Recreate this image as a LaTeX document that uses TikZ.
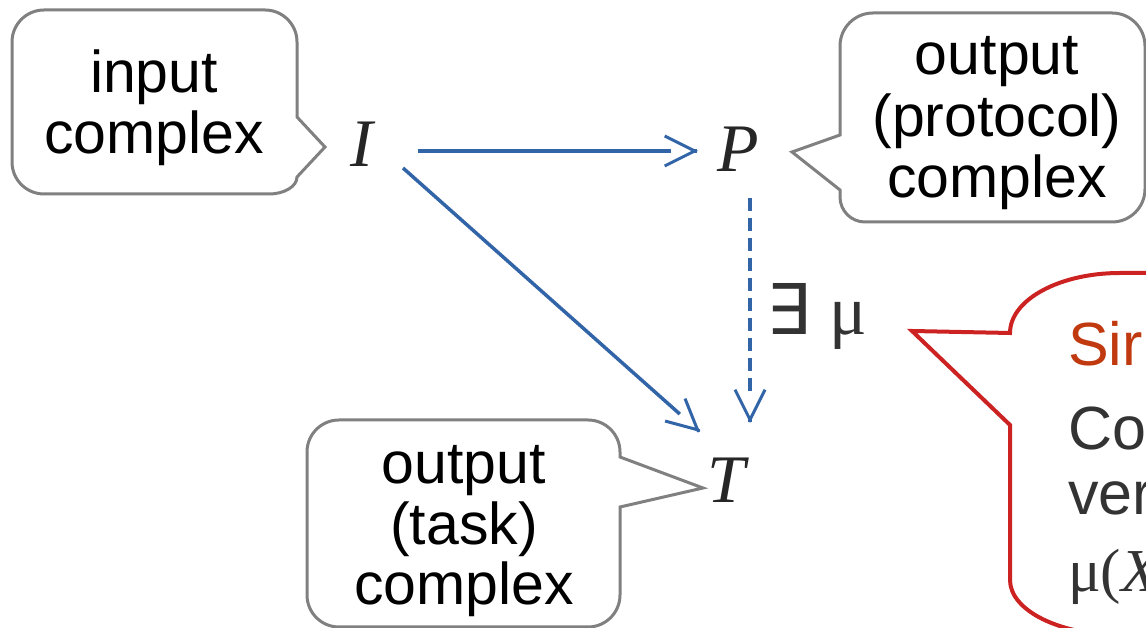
\documentclass[tikz,border=0pt]{standalone}
\usepackage{fontspec}
\setmainfont{Liberation Sans}
\newfontfamily\seriffam{Liberation Serif}
\newfontfamily\dejavufam{DejaVu Sans}
\usetikzlibrary{arrows.meta,calc}
\definecolor{ablue}{HTML}{3264A8}
\definecolor{cgray}{HTML}{808080}
\definecolor{cred}{HTML}{CC2222}
\definecolor{corange}{HTML}{C0390F}
\definecolor{tgray}{HTML}{333333}
\definecolor{mgray}{HTML}{262626}
\tikzset{
  callgray/.style={draw=cgray, line width=3pt, fill=white, line join=miter},
  callred/.style={draw=cred, line width=4pt, fill=white, line join=miter},
  calltext/.style={font=\fontsize{59}{64}\selectfont, text=black, inner sep=0pt, anchor=base},
  redtext/.style={font=\fontsize{61}{64}\selectfont, text=tgray, inner sep=0pt, anchor=base west},
  mathlet/.style={font=\seriffam\itshape\fontsize{68}{72}\selectfont, text=mgray, inner sep=0pt, anchor=base},
  shaft/.style={draw=ablue, line width=3.5pt, shorten >=27pt},
  dashshaft/.style={shaft, dash pattern=on 13pt off 7pt},
  tiponly/.style={draw=ablue, line width=3.5pt, -{Straight Barb[length=30pt,width=30pt,line width=3pt]}}
}
\begin{document}
\begin{tikzpicture}[x=1pt,y=1pt]
\useasboundingbox (0,0) rectangle (1146,628);
\clip (0,0) rectangle (1146,628);

% input complex callout
\draw[callgray] (44,618) -- (265,618) arc[start angle=90,end angle=0,radius=32]
  -- (297,511) -- (325,481) -- (297,451)
  arc[start angle=0,end angle=-90,x radius=28,y radius=17]
  -- (44,434) arc[start angle=270,end angle=180,radius=32]
  -- (12,586) arc[start angle=180,end angle=90,radius=32] -- cycle;
\node[calltext] (in1) at (154,535) {input};
\node[calltext] (in2) at (154,474) {complex};

% output (protocol) complex callout
\draw[callgray] (873,615) -- (1112,615) arc[start angle=90,end angle=0,radius=33]
  -- (1145,439) arc[start angle=0,end angle=-90,radius=33]
  -- (865,406) arc[start angle=270,end angle=180,radius=25]
  -- (840,438) -- (792,476) -- (840,493)
  -- (840,582) arc[start angle=180,end angle=90,radius=33] -- cycle;
\node[calltext] (pr1) at (997,553) {output};
\node[calltext] (pr2) at (997,491) {(protocol)};
\node[calltext] (pr3) at (997,430) {complex};

% output (task) complex callout
\draw[callgray] (339,208) -- (588,208) arc[start angle=90,end angle=0,radius=32]
  -- (620,171) -- (703,140) -- (620,121)
  -- (620,33) arc[start angle=0,end angle=-90,radius=32]
  -- (339,1) arc[start angle=270,end angle=180,radius=32]
  -- (307,176) arc[start angle=180,end angle=90,radius=32] -- cycle;
\node[calltext] (tk1) at (464,144) {output};
\node[calltext] (tk2) at (464,83) {(task)};
\node[calltext] (tk3) at (464,23) {complex};

% red callout
\draw[callred] (1010,203) -- (912,297) -- (1010,295)
  arc[start angle=180,end angle=90,x radius=110,y radius=60]
  -- (1175,355) -- (1175,-7) -- (1120,-7)
  arc[start angle=270,end angle=180,x radius=110,y radius=55] -- cycle;
\node[redtext, text=corange] (r1) at (1068,262) {Sir};
\node[redtext] (r2) at (1068,178) {Co};
\node[redtext] (r3) at (1068,113) {ver};
\node[redtext, font=\seriffam\fontsize{61}{64}\selectfont] (r4) at (1068,36) {μ(\itshape X};

% complexes
\node[mathlet] (I) at (362,461) {I};
\node[mathlet] (P) at (738,456) {P};
\node[mathlet] (T) at (726,125) {T};

% arrow end points, taken from the nodes
\coordinate (ipS) at ($(I.base)+(56,16)$);
\coordinate (ipE) at ($(P.base)+(-40,21)$);
\coordinate (itS) at ($(I.base)+(41,-1)$);
\coordinate (itE) at ($(T.base)+(-26,71)$);
\coordinate (ptS) at ($(P.base)+(12,-26)$);
\coordinate (ptE) at ($(T.base)+(24,80)$);

% arrows: shaft stops at the mouth of the open head
\draw[shaft] (ipS) -- (ipE);
\draw[tiponly] ($(ipE)!1pt!(ipS)$) -- (ipE);
\draw[shaft] (itS) -- (itE);
\draw[tiponly] ($(itE)!1pt!(itS)$) -- (itE);
\draw[dashshaft] (ptS) -- (ptE);
\draw[tiponly] ($(ptE)!1pt!(ptS)$) -- (ptE);

% label
\node[inner sep=0pt, anchor=base west, text=tgray, font=\fontsize{70}{72}\selectfont] (mu) at (766,293) {{\dejavufam ∃} {\seriffam μ}};
\end{tikzpicture}
\end{document}
